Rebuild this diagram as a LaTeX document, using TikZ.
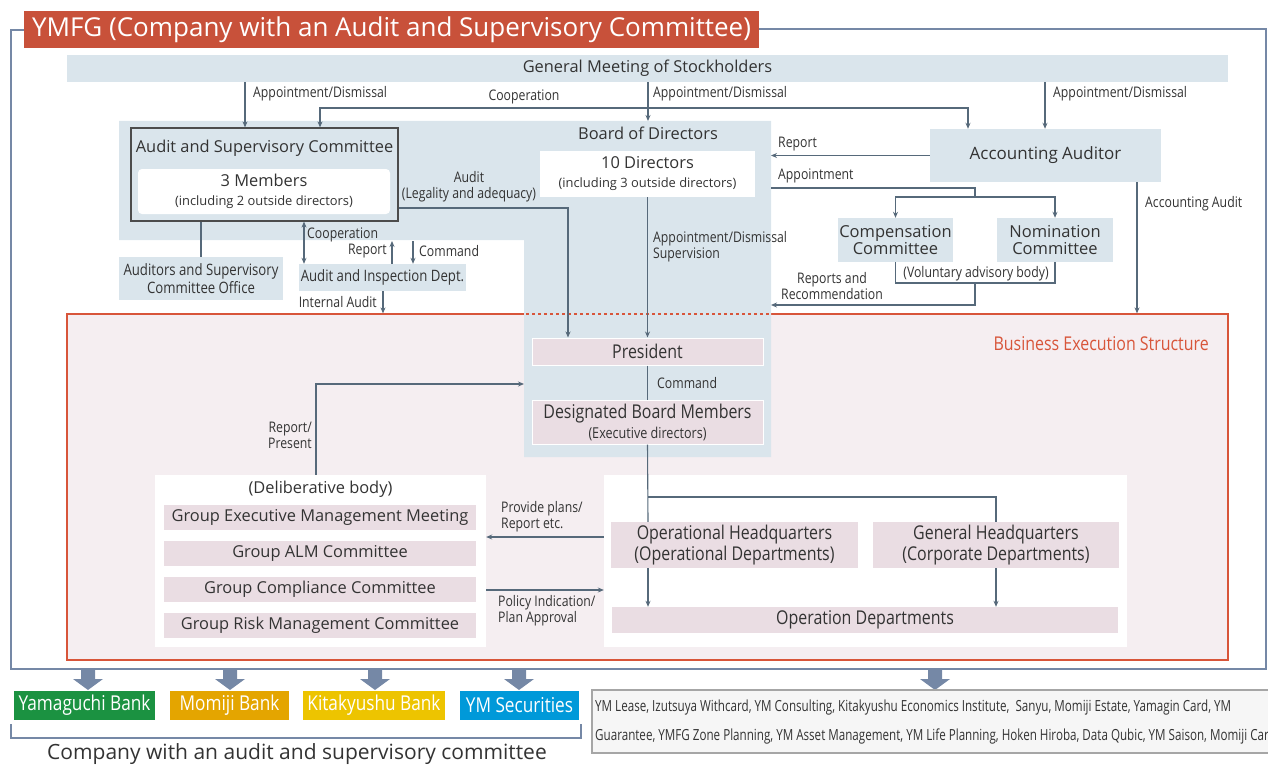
\documentclass[tikz,border=0pt]{standalone}
\usepackage{fontspec}
\setmainfont{Open Sans}
\newfontfamily\condfont[FakeStretch=0.84]{Open Sans}
\newfontfamily\narrowfont[FakeStretch=0.76]{Open Sans}
\usetikzlibrary{arrows.meta}

\definecolor{bdblue}{HTML}{DAE5EC}
\definecolor{linecol}{HTML}{56697A}
\definecolor{framecol}{HTML}{7588A6}
\definecolor{titlered}{HTML}{C8513A}
\definecolor{besred}{HTML}{D8553A}
\definecolor{bespink}{HTML}{F5EEF1}
\definecolor{boxpink}{HTML}{EADDE3}
\definecolor{txt}{HTML}{333333}
\definecolor{ygreen}{HTML}{1B9241}
\definecolor{morange}{HTML}{E4A500}
\definecolor{kyellow}{HTML}{EDC400}
\definecolor{ymblue}{HTML}{0099D9}

\newcommand\titlesz{\fontsize{26}{30}\selectfont}
\newcommand\mainsz{\fontsize{16.4}{19}\selectfont}
\newcommand\subsz{\fontsize{12.9}{14}\selectfont}
\newcommand\condmid{\condfont\fontsize{15.7}{18}\selectfont}
\newcommand\condbig{\condfont\fontsize{19}{20}\selectfont}
\newcommand\condsub{\condfont\fontsize{15}{15}\selectfont}
\newcommand\lblsz{\condfont\fontsize{14.6}{16}\selectfont}
\newcommand\compsz{\condfont\fontsize{20.5}{24}\selectfont}
\newcommand\subssz{\narrowfont\fontsize{15.3}{29}\selectfont}
\newcommand\notesz{\fontsize{21}{24}\selectfont}

\tikzset{
  box/.style={inner sep=0pt, align=center, text=txt},
  bluebox/.style={box, fill=bdblue},
  pinkbox/.style={box, fill=boxpink, draw=white, line width=1pt},
  whitebox/.style={box, fill=white},
  lbl/.style={inner sep=1pt, text=txt, font=\lblsz},
  conn/.style={draw=linecol, line width=1.1pt},
  company/.style={box, text=white, font=\compsz, minimum height=29},
}

\begin{document}
\begin{tikzpicture}[x=1pt, y=-1pt, >={Stealth[length=6pt,width=5pt]}]
  \useasboundingbox (0,0) rectangle (1268,765);

  % outer frame and title
  \draw[framecol, line width=2pt] (24,30) -- (11,30) -- (11,669) -- (1266,669) -- (1266,29) -- (759,29);
  \node[box, fill=titlered, text=white, minimum width=735, minimum height=37, font=\titlesz] (title) at (391.5,29.5) {YMFG (Company with an Audit and Supervisory Committee)};

  % general meeting
  \node[bluebox, minimum width=1161, minimum height=27, font=\mainsz] (gm) at (647.5,68.5) {General Meeting of Stockholders};

  % business execution structure
  \node[box, fill=bespink, draw=besred, line width=1.2pt, minimum width=1161, minimum height=346] (bes) at (647.5,487) {};
  \node[box, text=besred, font=\condbig, anchor=east] (best) at (1209,344) {Business Execution Structure};

  % board of directors
  \fill[bdblue] (119,121) -- (771,121) -- (771,457) -- (524,457) -- (524,240) -- (119,240) -- cycle;
  \draw[besred, dashed, line width=1.2pt] (526,314) -- (771,314);
  \coordinate (bodtop) at (648,121);
  \coordinate (bodr) at (771,0);
  \node[box, font=\mainsz] (bod) at (648,133) {Board of Directors};
  \node[whitebox, minimum width=215, minimum height=46, font=\mainsz] (tend) at (647.5,174) {10 Directors\\{\subsz (including 3 outside directors)}};

  % audit and supervisory committee
  \node[bluebox, draw=gray!60!black, line width=1.2pt, minimum width=267, minimum height=93] (asc) at (264.5,174.5) {};
  \node[box, font=\mainsz] (asct) at (264.5,148) {Audit and Supervisory Committee};
  \node[whitebox, rounded corners=4pt, minimum width=252, minimum height=45, font=\mainsz] (ascm) at (264,191.5) {3 Members\\{\subsz (including 2 outside directors)}};
  \node[bluebox, minimum width=164, minimum height=43, font=\condmid] (asco) at (201,278.5) {Auditors and Supervisory\\Committee Office};
  \node[bluebox, minimum width=167, minimum height=27, font=\condmid] (aid) at (382.5,277.5) {Audit and Inspection Dept.};

  % accounting auditor and committees
  \node[bluebox, minimum width=231, minimum height=53, font=\fontsize{17}{19}\selectfont] (aa) at (1045.5,155.5) {Accounting Auditor};
  \node[bluebox, minimum width=115, minimum height=44, font=\fontsize{16.5}{17}\selectfont] (comp) at (895.5,240) {Compensation\\Committee};
  \node[bluebox, minimum width=116, minimum height=44, font=\fontsize{16.5}{17}\selectfont] (nom) at (1055,240) {Nomination\\Committee};

  % president
  \node[pinkbox, minimum width=231, minimum height=27, font=\condbig] (pres) at (647.5,351.5) {President};
  \node[pinkbox, minimum width=231, minimum height=44, font=\condbig] (dbm) at (647.5,422) {Designated Board Members\\{\condsub (Executive directors)}};

  % deliberative body
  \node[whitebox, minimum width=331, minimum height=172] (delib) at (320.5,561) {};
  \node[box, font=\mainsz] (delibt) at (320.5,489) {(Deliberative body)};
  \foreach \y/\t/\n in {517.5/Group Executive Management Meeting/gemm, 553.5/Group ALM Committee/galm, 589.5/Group Compliance Committee/gcc, 625.5/Group Risk Management Committee/grmc}
    \node[box, fill=boxpink, minimum width=312, minimum height=25, font=\mainsz] (\n) at (320,\y) {\t};

  % headquarters
  \node[whitebox, minimum width=523, minimum height=172] (exec) at (865.5,561) {};
  \node[box, fill=boxpink, minimum width=247, minimum height=46, font=\condfont\fontsize{19}{21}\selectfont] (ophq) at (734.5,545) {Operational Headquarters\\(Operational Departments)};
  \node[box, fill=boxpink, minimum width=246, minimum height=46, font=\condfont\fontsize{19}{21}\selectfont] (genhq) at (996,545) {General Headquarters\\(Corporate Departments)};
  \node[box, fill=boxpink, minimum width=506, minimum height=26, font=\condbig] (opdept) at (865,620) {Operation Departments};

  % connectors: top
  \draw[conn, ->] (245,0 |- gm.south) -- (245,0 |- asc.north);
  \draw[conn, <->] (320,0 |- asc.north) |- (968,108) -- (968,0 |- aa.north);
  \draw[conn, ->] (648,0 |- gm.south) -- (bodtop);
  \draw[conn, ->] (1045,0 |- gm.south) -- (1045,0 |- aa.north);
  \node[lbl, anchor=west] (l1) at (252,94) {Appointment/Dismissal};
  \node[lbl, anchor=west] (l2) at (652,94) {Appointment/Dismissal};
  \node[lbl, anchor=west] (l3) at (1052,94) {Appointment/Dismissal};
  \node[lbl] (l4) at (524,97) {Cooperation};

  % connectors: accounting auditor side
  \draw[conn, ->] (aa.west) -- (aa.west -| bodr);
  \node[lbl, anchor=west] (l5) at (777,144) {Report};
  \draw[conn] (bodr |- 0,188) -| (975,197);
  \draw[conn, ->] (975,197) -| (comp.north);
  \draw[conn, ->] (975,197) -| (nom.north);
  \node[lbl, anchor=west] (l6) at (777,176) {Appointment};
  \draw[conn] (comp.south) |- (975,283) -| (nom.south);
  \node[lbl] (l7) at (976,274) {(Voluntary advisory body)};
  \draw[conn, ->] (975,283) |- (771,305);
  \node[lbl, align=center] (l8) at (832,286) {Reports and\\Recommendation};
  \draw[conn, ->] (1137,0 |- aa.south) -- (1137,0 |- bes.north);
  \node[lbl, anchor=west] (l9) at (1144,204) {Accounting Audit};

  % connectors: audit committee side
  \draw[conn, ->] (asc.east |- 0,208) -| (568,0 |- pres.north);
  \node[lbl, align=center] (l10) at (469,187) {Audit\\(Legality and adequacy)};
  \draw[conn] (asco.north |- asc.south) -- (asco.north);
  \draw[conn, <->] (304,0 |- asc.south) -- (304,0 |- aid.north);
  \node[lbl, anchor=west] (l11) at (306,235) {Cooperation};
  \draw[conn, ->] (392,0 |- aid.north) -- (392,241);
  \draw[conn, ->] (413,241) -- (413,0 |- aid.north);
  \node[lbl, anchor=east] (l12) at (388,251) {Report};
  \node[lbl, anchor=west] (l13) at (418,251) {Command};
  \draw[conn, ->] (383,0 |- aid.south) -- (383,0 |- bes.north);
  \node[lbl, anchor=east] (l14) at (378,302) {Internal Audit};

  % connectors: execution
  \draw[conn, ->] (tend.south) -- (pres.north);
  \node[lbl, anchor=west, align=left] (l15) at (652,247) {Appointment/Dismissal\\Supervision};
  \draw[conn] (pres.south) -- (dbm.north);
  \node[lbl, anchor=west] (l16) at (656,383) {Command};
  \draw[conn] (dbm.south) -- (648,0 |- ophq.north);
  \draw[conn] (648,497) -| (genhq.north);
  \draw[conn, ->] (648,0 |- ophq.south) -- (648,0 |- opdept.north);
  \draw[conn, ->] (genhq.south) -- (genhq.south |- opdept.north);
  \draw[conn, ->] (316,0 |- delib.north) |- (524,384);
  \node[lbl, anchor=east, align=right] (l17) at (313,435) {Report/\\Present};
  \draw[conn, ->] (exec.west |- 0,537) -- (delib.east |- 0,537);
  \node[lbl, anchor=west, align=left] (l18) at (500,517) {Provide plans/\\Report etc.};
  \draw[conn, ->] (delib.east |- 0,590) -- (exec.west |- 0,590);
  \node[lbl, anchor=west, align=left] (l19) at (497,611) {Policy Indication/\\Plan Approval};

  % group companies
  \foreach \x in {88,230,375,519,935}
    \fill[framecol] (\x-7,670) -- (\x+7,670) -- (\x+7,679) -- (\x+15,679) -- (\x,690) -- (\x-15,679) -- (\x-7,679) -- cycle;
  \node[company, fill=ygreen, minimum width=141] (ymb) at (84.5,705.5) {Yamaguchi Bank};
  \node[company, fill=morange, minimum width=119] (mmb) at (229.5,705.5) {Momiji Bank};
  \node[company, fill=kyellow, minimum width=142] (kkb) at (374,705.5) {Kitakyushu Bank};
  \node[company, fill=ymblue, minimum width=119] (yms) at (519.5,705.5) {YM Securities};
  \draw[framecol, line width=1.5pt] (11,724) -- (11,738) -- (581,738) -- (581,724);
  \node[box, font=\notesz] (note) at (297,754) {Company with an audit and supervisory committee};
  \begin{scope}
    \clip (0,0) rectangle (1268,765);
    \draw[gray!70, fill=gray!7, line width=1.2pt] (592,690) rectangle (1280,753);
    \node[box, anchor=north west, align=left, font=\subssz] (subs) at (595,700) {YM Lease, Izutsuya Withcard, YM Consulting, Kitakyushu Economics Institute,\ \ Sanyu, Momiji Estate, Yamagin Card, YM\\Guarantee, YMFG Zone Planning, YM Asset Management, YM Life Planning, Hoken Hiroba, Data Qubic, YM Saison, Momiji Card};
  \end{scope}
\end{tikzpicture}
\end{document}
